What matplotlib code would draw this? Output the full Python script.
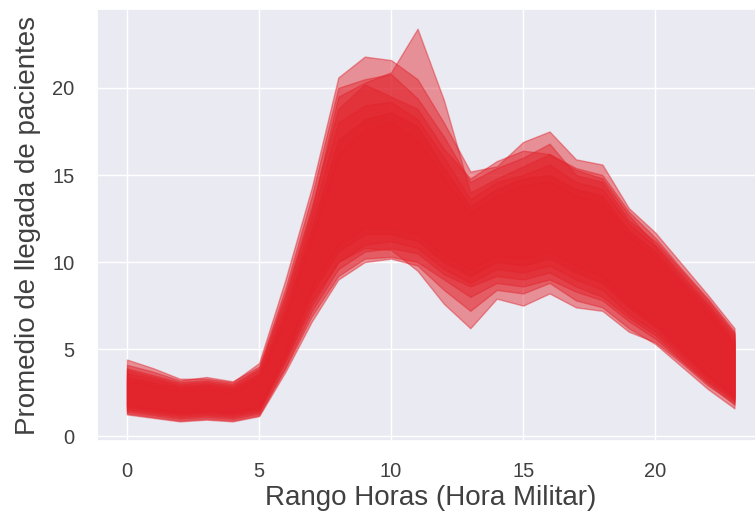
import matplotlib
matplotlib.use("Agg")
import matplotlib.pyplot as plt
import seaborn as sns
import numpy as np

# Horas del dia (hora militar)
horas = list(range(24))

# Bandas de llegada de pacientes (limite superior / inferior) por grupo
sup_a = [3.8, 3.4, 3.0, 3.1, 2.9, 3.8, 8.0, 13.0, 19.5, 20.3, 20.9, 23.4, 19.3, 14.0, 14.8, 15.5, 16.2, 15.3, 14.8, 12.7, 11.0, 9.3, 7.6, 5.8]
inf_a = [1.5, 1.3, 1.1, 1.2, 1.1, 1.4, 4.3, 7.5, 10.0, 10.8, 10.7, 9.5, 7.6, 6.2, 7.9, 7.5, 8.2, 7.4, 7.2, 6.0, 5.4, 4.2, 2.9, 1.9]

sup_b = [4.4, 3.9, 3.3, 3.3, 3.1, 4.2, 9.0, 14.3, 20.6, 21.8, 21.6, 20.5, 18.0, 15.2, 15.5, 16.9, 17.5, 15.9, 15.6, 13.1, 11.7, 9.9, 8.1, 6.2]
inf_b = [1.3, 1.1, 0.9, 1.0, 0.9, 1.2, 3.9, 6.9, 9.2, 10.2, 10.3, 10.0, 9.0, 8.0, 8.8, 8.6, 9.0, 8.3, 7.8, 6.6, 5.6, 4.3, 3.0, 1.8]

sup_c = [4.1, 3.7, 3.2, 3.4, 3.15, 4.0, 8.5, 13.8, 20.0, 20.5, 20.8, 19.4, 17.2, 14.6, 15.4, 16.0, 16.8, 15.0, 14.6, 12.4, 11.2, 9.5, 7.8, 5.9]
inf_c = [1.25, 1.05, 0.85, 0.95, 0.85, 1.15, 3.7, 6.6, 9.0, 10.0, 10.2, 9.8, 8.4, 7.2, 8.4, 8.2, 8.8, 7.8, 7.4, 6.2, 5.3, 4.0, 2.7, 1.6]

sup_d = [3.9, 3.5, 3.1, 3.2, 3.0, 3.9, 8.2, 13.2, 18.8, 20.2, 19.5, 18.8, 16.5, 14.8, 15.8, 16.4, 16.2, 15.4, 15.0, 12.9, 11.4, 9.6, 7.9, 6.0]
inf_d = [1.4, 1.2, 1.0, 1.1, 1.0, 1.3, 4.0, 7.2, 9.6, 10.6, 10.8, 10.5, 9.3, 8.6, 9.2, 9.0, 9.4, 8.6, 8.0, 6.8, 5.8, 4.4, 3.1, 2.0]

sup_e = [3.6, 3.3, 2.9, 3.0, 2.8, 3.6, 7.6, 12.6, 18.0, 19.0, 19.2, 18.2, 16.0, 13.6, 14.6, 15.0, 15.6, 14.6, 14.2, 12.2, 10.9, 9.1, 7.5, 5.6]
inf_e = [1.6, 1.4, 1.2, 1.3, 1.2, 1.5, 4.4, 7.8, 10.0, 11.0, 11.2, 10.8, 9.6, 8.8, 9.6, 9.4, 9.8, 9.0, 8.4, 7.0, 6.0, 4.6, 3.2, 2.1]

sup_f = [3.4, 3.1, 2.8, 2.9, 2.7, 3.5, 7.2, 12.0, 17.0, 18.2, 18.6, 17.8, 15.4, 13.2, 14.2, 14.8, 15.0, 14.2, 13.8, 11.8, 10.6, 8.9, 7.3, 5.4]
inf_f = [1.7, 1.5, 1.3, 1.4, 1.3, 1.6, 4.6, 8.2, 10.6, 11.6, 11.6, 11.2, 10.0, 9.2, 10.0, 9.8, 10.2, 9.4, 8.8, 7.4, 6.3, 4.8, 3.4, 2.2]

sup_g = [3.2, 2.9, 2.6, 2.7, 2.5, 3.3, 6.8, 11.4, 16.2, 17.6, 18.0, 17.0, 14.8, 12.8, 13.8, 14.4, 14.6, 13.8, 13.4, 11.5, 10.3, 8.6, 7.0, 5.2]
inf_g = [1.8, 1.6, 1.4, 1.5, 1.4, 1.7, 4.8, 8.6, 11.0, 12.0, 12.0, 11.6, 10.4, 9.6, 10.4, 10.2, 10.6, 9.8, 9.2, 7.6, 6.5, 5.0, 3.5, 2.3]

bandas = [(inf_a, sup_a), (inf_b, sup_b), (inf_c, sup_c), (inf_d, sup_d),
          (inf_e, sup_e), (inf_f, sup_f), (inf_g, sup_g)]

sns.set_theme(style="darkgrid")
plt.rcParams['font.family'] = ['Liberation Sans', 'DejaVu Sans']

fig = plt.figure(figsize=(7.55, 5.16), dpi=100)
ax = fig.add_axes([0.128, 0.1453, 0.885, 0.837])

for inf, sup in bandas:
    ax.fill_between(horas, inf, sup, color='#e2222a', alpha=0.45)

ax.set_xlabel('Rango Horas (Hora Militar)', fontsize=20, color='#404040', labelpad=3)
ax.set_ylabel('Promedio de llegada de pacientes', fontsize=20, color='#404040', labelpad=8)
ax.tick_params(labelsize=14.5, colors='#404040')
ax.tick_params(axis='y', pad=10)
ax.tick_params(axis='x', pad=9)

fig.savefig('out.png', dpi=100)
